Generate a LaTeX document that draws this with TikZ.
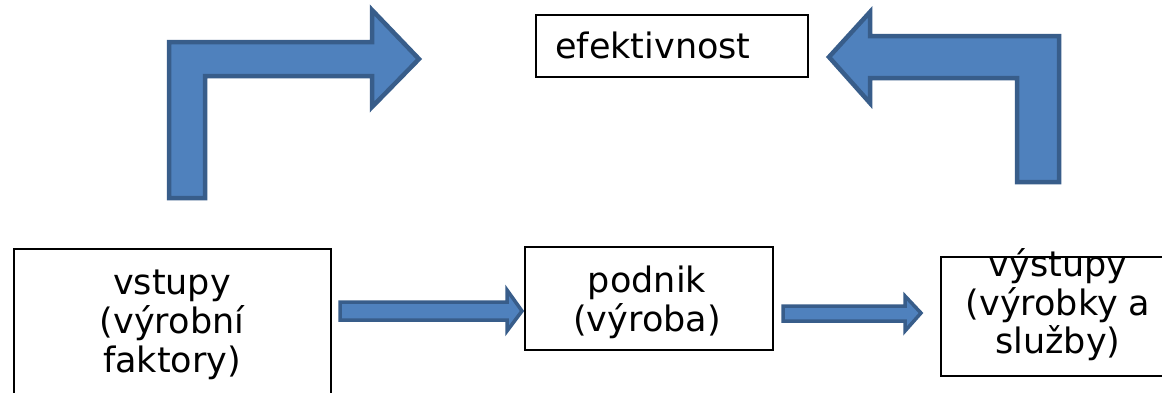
\documentclass[tikz,border=0pt]{standalone}
\usepackage{fontspec}
\setmainfont{DejaVu Sans}
\definecolor{arrfill}{HTML}{4F81BD}
\definecolor{arrline}{HTML}{385D8A}
\begin{document}
\begin{tikzpicture}[x=1pt,y=-1pt,
  box/.style={draw=black, line width=2pt, fill=white, inner sep=0pt, anchor=north west},
  lbl/.style={font=\fontsize{35}{39}\selectfont, inner sep=0pt, anchor=base},
  bigarrow/.style={fill=arrfill, draw=arrline, line width=4.5pt, line join=miter},
  smallarrow/.style={fill=arrfill, draw=arrline, line width=3.5pt, line join=miter}]
\clip (0,0) rectangle (1162,392);
\fill[white] (0,0) rectangle (1162,392);
% boxes
\node[box, minimum width=272pt, minimum height=62pt] (eff) at (535,14) {};
\node[box, minimum width=317pt, minimum height=160pt] (vst) at (13,248) {};
\node[box, minimum width=248pt, minimum height=103pt] (pod) at (524,246) {};
\node[box, minimum width=240pt, minimum height=119pt] (vys) at (940,256) {};
% texts
\node[lbl, anchor=base west] (teff) at (555,58) {efektivnost};
\node[lbl] (tv1) at (172,294) {vstupy};
\node[lbl] (tv2) at (172,333) {(výrobní};
\node[lbl] (tv3) at (172,372) {faktory)};
\node[lbl] (tp1) at (647,292) {podnik};
\node[lbl] (tp2) at (647,331) {(výroba)};
\node[lbl] (ty1) at (1058,276) {výstupy};
\node[lbl] (ty2) at (1058,315) {(výrobky a};
\node[lbl] (ty3) at (1058,353) {služby)};
% bent arrows
\draw[bigarrow] (169,198) -- (169,42) -- (372,42) -- (372,10) -- (419,59) -- (372,107) -- (372,76) -- (205,76) -- (205,198) -- cycle;
\draw[bigarrow] (829,57) -- (870,12) -- (870,36) -- (1059,36) -- (1059,182) -- (1017,182) -- (1017,78) -- (870,78) -- (870,103) -- cycle;
% small arrows
\draw[smallarrow] (340,302) -- (507,302) -- (507,290) -- (522,311) -- (507,331) -- (507,320) -- (340,320) -- cycle;
\draw[smallarrow] (783,306) -- (905,306) -- (905,296) -- (921,313) -- (905,331) -- (905,321) -- (783,321) -- cycle;
\end{tikzpicture}
\end{document}
